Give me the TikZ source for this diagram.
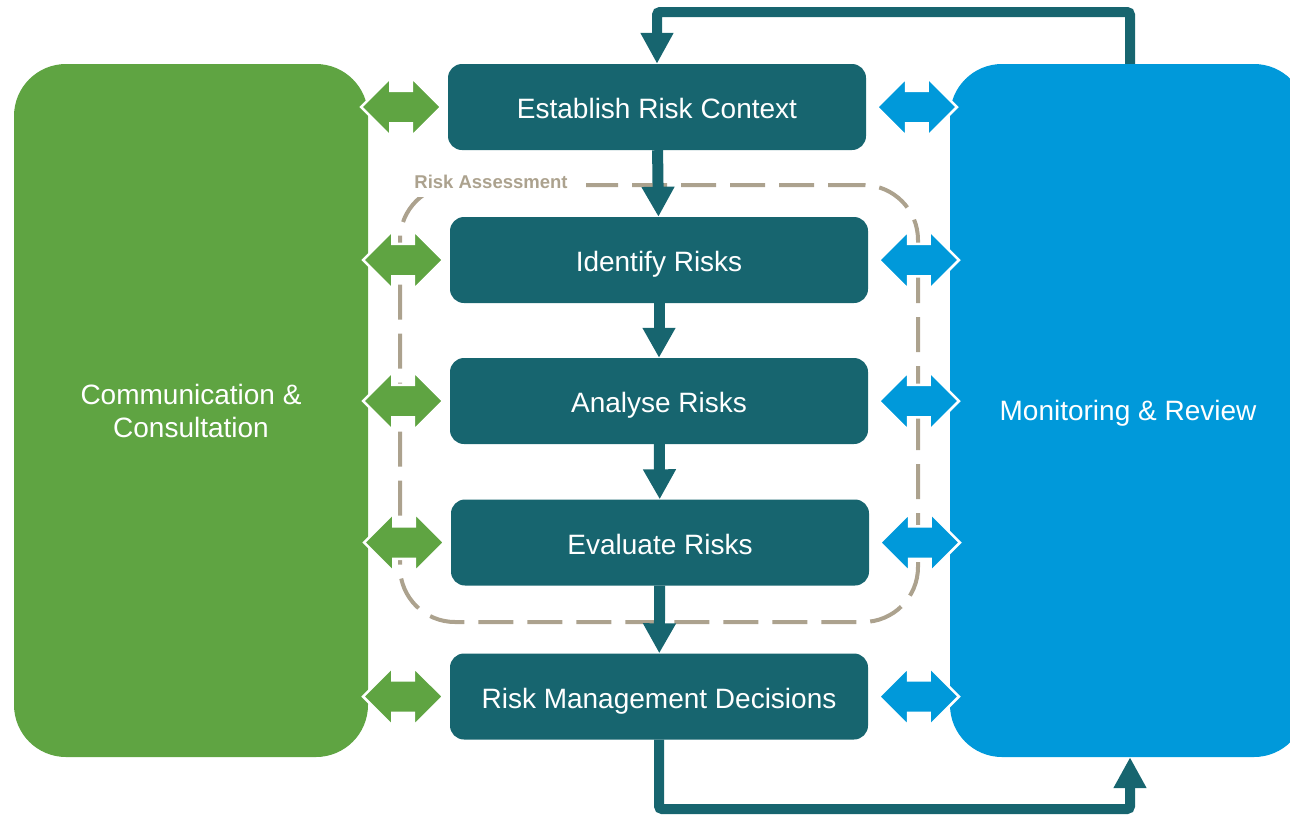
\documentclass[tikz,border=0pt]{standalone}
\usepackage{fontspec}
\setmainfont{Liberation Sans}
\usetikzlibrary{positioning}
\usetikzlibrary{arrows.meta}
\usetikzlibrary{shapes.arrows}
\definecolor{riskteal}{HTML}{17656F}
\definecolor{commgreen}{HTML}{5FA442}
\definecolor{monblue}{HTML}{0099DA}
\definecolor{assesstan}{HTML}{ACA28E}

\begin{document}
\begin{tikzpicture}[x=1pt,y=-1pt,
    panel/.style={rounded corners=52pt,text=white,align=center,inner sep=0pt,
        font=\fontsize{28}{33}\selectfont},
    stepbox/.style={fill=riskteal,rounded corners=14pt,minimum width=418pt,
        minimum height=86pt,inner sep=0pt,text=white,font=\fontsize{28}{33}\selectfont,
        text height=23pt,text depth=0pt},
    flow/.style={draw=riskteal,line width=11pt,-{Triangle[width=31pt,length=30pt]}},
    loopline/.style={draw=riskteal,line width=10pt,rounded corners=3pt,
        -{Triangle[width=31pt,length=31pt]}},
    talk/.style={shape=double arrow,draw=white,line width=2.5pt,minimum height=80pt,
        inner xsep=0pt,inner ysep=15pt,double arrow head extend=13pt}]
    \useasboundingbox (0,0) rectangle (1290,815);
    \clip (0,0) rectangle (1290,815);
    % side panels
    \node[panel,fill=commgreen,minimum width=354pt,minimum height=693pt] (comm) at (191,410.5)
        {Communication \&\\Consultation};
    \node[panel,fill=monblue,minimum width=356pt,minimum height=693pt,text depth=0pt] (mon)
        at (1128,410.5) {Monitoring \& Review};
    % risk assessment frame
    \node[draw=assesstan,line width=4pt,dash pattern=on 35pt off 14pt,rounded corners=55pt,
        minimum width=518pt,minimum height=437pt] (assess) at (659,403.5) {};
    \node[fill=white,text=assesstan,font=\fontsize{18.5}{22}\selectfont\bfseries,
        inner xsep=18pt,inner ysep=9pt] (assesslabel) at (491,181.5) {Risk Assessment};
    % process steps
    \node[stepbox] (est) at (657,107) {Establish Risk Context};
    \node[stepbox] (ident) at (659,260) {Identify Risks};
    \node[stepbox] (anal) at (659,401) {Analyse Risks};
    \node[stepbox] (eval) at (660,542.5) {Evaluate Risks};
    \node[stepbox] (dec) at (659,696.5) {Risk Management Decisions};
    % two-way links to the panels
    \foreach \s in {est,ident,anal,eval,dec} {
        \node[talk,fill=commgreen,left=5pt of \s] (c\s) {};
        \node[talk,fill=monblue,right=9pt of \s] (m\s) {};
    }
    % flow down the steps
    \draw[flow] (est) -- (ident);
    \draw[flow] (ident) -- (anal);
    \draw[flow] (anal) -- (eval);
    \draw[flow] (eval) -- (dec);
    % review loops
    \coordinate (topturn) at (1130,12);
    \coordinate (botturn) at (1130,809);
    \draw[loopline] (topturn |- mon.north) -- (topturn) -| (est.north);
    \draw[loopline] (dec.south) |- (botturn) -- (botturn |- mon.south);
\end{tikzpicture}
\end{document}
